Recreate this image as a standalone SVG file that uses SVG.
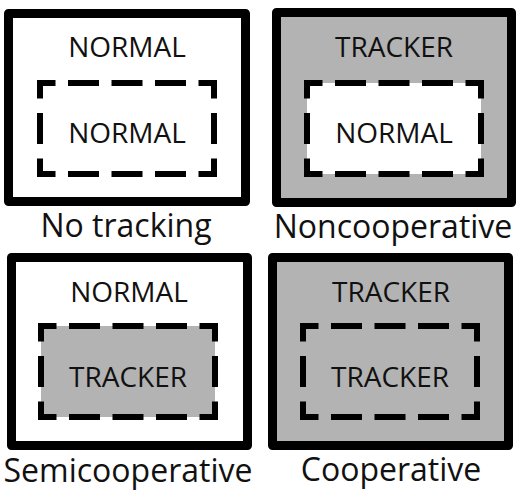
<svg xmlns="http://www.w3.org/2000/svg" width="520" height="497" viewBox="0 0 520 497">
<style>
.outer{stroke:#000;stroke-width:9;stroke-linejoin:round}
.w{fill:#fff}
.g{fill:#b3b3b3}
.fillin{stroke:none}
.dh{stroke:#000;stroke-width:6;stroke-linecap:square;stroke-dasharray:25 18.5;stroke-dashoffset:12.5;fill:none}
.dv{stroke:#000;stroke-width:6;stroke-linecap:square;stroke-dasharray:25 20.5;stroke-dashoffset:12.5;fill:none}
.lbl{font-family:"Open Sans","Noto Sans","Liberation Sans",sans-serif;font-size:28px;fill:#111;text-anchor:middle}
.cap{font-family:"Open Sans","Noto Sans","Liberation Sans",sans-serif;font-size:32px;fill:#111;text-anchor:middle}
</style>
<rect width="520" height="497" fill="#fff"/>
<g id="no-tracking">
<rect class="outer w" x="8.5" y="13.5" width="237" height="188"/>
<rect class="fillin w" x="40" y="83" width="174" height="91"/>
<line class="dh" x1="40" y1="83" x2="214" y2="83"/>
<line class="dh" x1="40" y1="174" x2="214" y2="174"/>
<line class="dv" x1="40" y1="83" x2="40" y2="174"/>
<line class="dv" x1="214" y1="83" x2="214" y2="174"/>
<text class="lbl" x="127" y="57">NORMAL</text>
<text class="lbl" x="127" y="143">NORMAL</text>
<text class="cap" x="126" y="237">No tracking</text>
</g>
<g id="noncooperative">
<rect class="outer g" x="276.5" y="12.5" width="235" height="190"/>
<rect class="fillin w" x="307" y="83" width="174" height="91"/>
<line class="dh" x1="307" y1="83" x2="481" y2="83"/>
<line class="dh" x1="307" y1="174" x2="481" y2="174"/>
<line class="dv" x1="307" y1="83" x2="307" y2="174"/>
<line class="dv" x1="481" y1="83" x2="481" y2="174"/>
<text class="lbl" x="394" y="57">TRACKER</text>
<text class="lbl" x="394" y="143">NORMAL</text>
<text class="cap" x="393" y="238">Noncooperative</text>
</g>
<g id="semicooperative">
<rect class="outer w" x="11.5" y="257.5" width="236" height="188"/>
<rect class="fillin g" x="41" y="326" width="174" height="91"/>
<line class="dh" x1="41" y1="326" x2="215" y2="326"/>
<line class="dh" x1="41" y1="417" x2="215" y2="417"/>
<line class="dv" x1="41" y1="326" x2="41" y2="417"/>
<line class="dv" x1="215" y1="326" x2="215" y2="417"/>
<text class="lbl" x="129" y="302">NORMAL</text>
<text class="lbl" x="128" y="387">TRACKER</text>
<text class="cap" x="128" y="482">Semicooperative</text>
</g>
<g id="cooperative">
<rect class="outer g" x="272.5" y="257.5" width="236" height="188"/>
<rect class="fillin g" x="303" y="326" width="174" height="91"/>
<line class="dh" x1="303" y1="326" x2="477" y2="326"/>
<line class="dh" x1="303" y1="417" x2="477" y2="417"/>
<line class="dv" x1="303" y1="326" x2="303" y2="417"/>
<line class="dv" x1="477" y1="326" x2="477" y2="417"/>
<text class="lbl" x="391" y="302">TRACKER</text>
<text class="lbl" x="390" y="387">TRACKER</text>
<text class="cap" x="391" y="481">Cooperative</text>
</g>
<g id="connectors"/>
</svg>
